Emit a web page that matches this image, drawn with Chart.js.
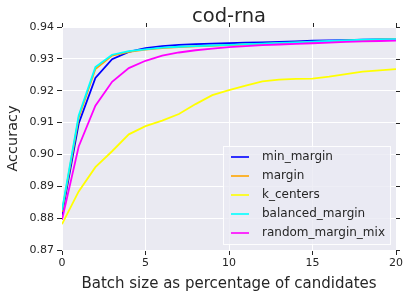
<!DOCTYPE html>
<html>
<head>
<meta charset="utf-8">
<script src="https://cdn.jsdelivr.net/npm/chart.js@4.4.1/dist/chart.umd.min.js"></script>
<style>
  html, body { margin: 0; padding: 0; background: #fff; }
  #wrap { width: 410px; height: 297px; }
</style>
</head>
<body>
<div id="wrap"><canvas id="chart" width="410" height="297"></canvas></div>
<script>
// batch size (% of candidates)
const batchSizes = [0, 1, 2, 3, 4, 5, 6, 7, 8, 9, 10, 11, 12, 13, 14, 15, 16, 17, 18, 19, 20];

const minMargin = [0.8810, 0.9097, 0.9240, 0.9299, 0.9322, 0.9334, 0.9340, 0.9344, 0.9346, 0.9348, 0.9349,
  0.9351, 0.9352, 0.9353, 0.9355, 0.9357, 0.9358, 0.9359, 0.9360, 0.9361, 0.9361];
const margin = [0.8820, 0.9115, 0.9268, 0.9310, 0.9322, 0.9329, 0.9334, 0.9337, 0.9339, 0.9341, 0.9343,
  0.9345, 0.9347, 0.9349, 0.9351, 0.9353, 0.9355, 0.9357, 0.9359, 0.9360, 0.9361];
const kCenters = [0.8781, 0.8884, 0.8960, 0.9010, 0.9063, 0.9089, 0.9106, 0.9127, 0.9158, 0.9186, 0.9202,
  0.9216, 0.9229, 0.9235, 0.9237, 0.9238, 0.9244, 0.9252, 0.9260, 0.9264, 0.9268];
const balancedMargin = [0.8825, 0.9122, 0.9274, 0.9313, 0.9324, 0.9330, 0.9335, 0.9338, 0.9340, 0.9342, 0.9344,
  0.9346, 0.9348, 0.9350, 0.9352, 0.9354, 0.9356, 0.9358, 0.9360, 0.9361, 0.9362];
const randomMarginMix = [0.8795, 0.9025, 0.9153, 0.9228, 0.9271, 0.9294, 0.9310, 0.9320, 0.9327, 0.9332, 0.9337,
  0.9340, 0.9343, 0.9345, 0.9347, 0.9349, 0.9351, 0.9353, 0.9355, 0.9356, 0.9357];

const seriesNames = ["min_margin", "margin", "k_centers", "balanced_margin", "random_margin_mix"];
const seriesValues = [minMargin, margin, kCenters, balancedMargin, randomMarginMix];
const seriesColors = ["#0000ff", "#ffa500", "#ffff00", "#00ffff", "#ff00ff"];

const xTicks = [0, 5, 10, 15, 20];
const yTicks = [0.87, 0.88, 0.89, 0.90, 0.91, 0.92, 0.93, 0.94];

const titleText = "cod-rna";
const textColor = "#262626";
const fontFamily = "'DejaVu Sans', sans-serif";

const datasets = seriesNames.map((name, i) => ({
  label: name,
  data: batchSizes.map((x, j) => ({ x: x, y: seriesValues[i][j] })),
  borderColor: seriesColors[i],
  backgroundColor: seriesColors[i],
  borderWidth: 1.8,
  pointRadius: 0,
  tension: 0,
  fill: false,
  order: seriesNames.length - i // later series on top, like matplotlib
}));

// grey plot background
const plotBg = {
  id: "plotBg",
  beforeDraw(chart) {
    const { ctx, chartArea: a } = chart;
    ctx.save();
    ctx.fillStyle = "#eaeaf2";
    ctx.fillRect(a.left, a.top, a.right - a.left, a.bottom - a.top);
    ctx.restore();
  }
};

// title centred over the plot area (not the whole canvas)
const plotTitle = {
  id: "plotTitle",
  afterDraw(chart) {
    const { ctx, chartArea: a } = chart;
    ctx.save();
    ctx.fillStyle = textColor;
    ctx.font = "19.5px " + fontFamily;
    ctx.textAlign = "center";
    ctx.textBaseline = "alphabetic";
    ctx.fillText(titleText, (a.left + a.right) / 2, a.top - 5);
    ctx.restore();
  }
};

// tick marks on the top and right side too
const mirrorTicks = {
  id: "mirrorTicks",
  afterDraw(chart) {
    const { ctx, chartArea: a, scales } = chart;
    ctx.save();
    ctx.strokeStyle = textColor;
    ctx.lineWidth = 1;
    ctx.beginPath();
    xTicks.forEach(v => {
      const px = Math.round(scales.x.getPixelForValue(v)) + 0.5;
      ctx.moveTo(px, a.top);
      ctx.lineTo(px, a.top - 4);
    });
    yTicks.forEach(v => {
      const py = Math.round(scales.y.getPixelForValue(v)) + 0.5;
      ctx.moveTo(a.right, py);
      ctx.lineTo(a.right + 4, py);
    });
    ctx.stroke();
    ctx.restore();
  }
};

// legend box inside lower right of the plot
const boxLegend = {
  id: "boxLegend",
  afterDatasetsDraw(chart) {
    const { ctx, chartArea: a } = chart;
    const rowH = 19;
    const boxW = 168, boxH = 99;
    const x0 = a.right - boxW - 5;
    const y0 = a.bottom - boxH - 5;
    ctx.save();
    ctx.fillStyle = "rgba(234,234,242,0.8)";
    ctx.strokeStyle = "rgba(255,255,255,0.9)";
    ctx.lineWidth = 1;
    ctx.fillRect(x0, y0, boxW, boxH);
    ctx.strokeRect(x0 + 0.5, y0 + 0.5, boxW - 1, boxH - 1);
    ctx.font = "12px " + fontFamily;
    ctx.textBaseline = "middle";
    chart.data.datasets.forEach((ds, i) => {
      const cy = y0 + 11 + i * rowH;
      ctx.strokeStyle = ds.borderColor;
      ctx.globalAlpha = 0.8;
      ctx.lineWidth = 2;
      ctx.beginPath();
      ctx.moveTo(x0 + 8, cy);
      ctx.lineTo(x0 + 26, cy);
      ctx.stroke();
      ctx.globalAlpha = 1;
      ctx.fillStyle = textColor;
      ctx.fillText(ds.label, x0 + 39, cy);
    });
    ctx.restore();
  }
};

new Chart(document.getElementById("chart"), {
  type: "line",
  data: { datasets: datasets },
  options: {
    responsive: false,
    animation: false,
    layout: { padding: { left: 0, right: 14, top: 27, bottom: 0 } },
    plugins: {
      legend: { display: false },
      tooltip: { enabled: false },
      title: { display: false }
    },
    scales: {
      x: {
        type: "linear",
        min: 0,
        max: 20,
        afterBuildTicks: s => { s.ticks = xTicks.map(v => ({ value: v })); },
        afterFit: s => { s.height = 47; },
        border: { display: false },
        grid: { color: "#ffffff", lineWidth: 1, tickColor: textColor, tickLength: 5 },
        ticks: { color: textColor, font: { family: fontFamily, size: 11 }, padding: 2, maxRotation: 0 },
        title: {
          display: true,
          text: "Batch size as percentage of candidates",
          color: textColor,
          font: { family: fontFamily, size: 15 },
          padding: { top: 1, bottom: 4 }
        }
      },
      y: {
        type: "linear",
        min: 0.87,
        max: 0.94,
        afterBuildTicks: s => { s.ticks = yTicks.map(v => ({ value: v })); },
        afterFit: s => { s.width = 62; },
        border: { display: false },
        grid: { color: "#ffffff", lineWidth: 1, tickColor: textColor, tickLength: 5 },
        ticks: {
          color: textColor,
          font: { family: fontFamily, size: 11 },
          padding: 3,
          callback: v => v.toFixed(2)
        },
        title: {
          display: true,
          text: "Accuracy",
          color: textColor,
          font: { family: fontFamily, size: 14.5 },
          padding: { top: 5, bottom: 2 }
        }
      }
    }
  },
  plugins: [plotBg, plotTitle, mirrorTicks, boxLegend]
});
</script>
</body>
</html>
